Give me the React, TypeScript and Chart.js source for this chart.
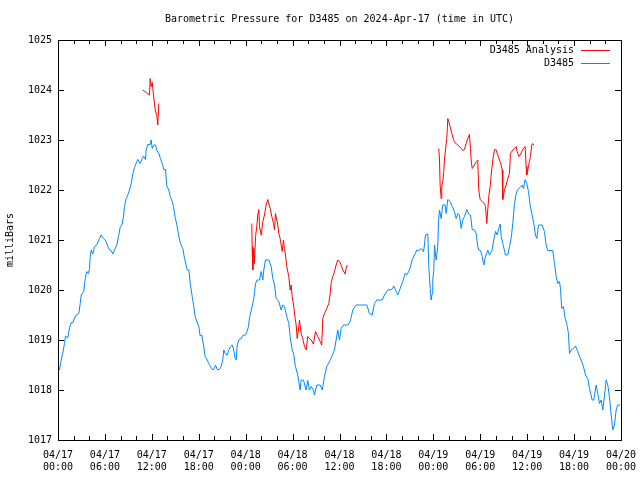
import React, { useEffect, useRef } from 'react';
import { Chart, registerables } from 'chart.js';

Chart.register(...registerables);

const TITLE = 'Barometric Pressure for D3485 on 2024-Apr-17 (time in UTC)';
const Y_TITLE = 'milliBars';
const DAY_LABELS = ['04/17', '04/18', '04/19', '04/20'];
const HOUR_LABELS = ['00:00', '06:00', '12:00', '18:00'];
const Y_MIN = 1017;
const Y_MAX = 1025;
const X_MAX_HOURS = 72;

const STATION_LABEL = 'D3485';
const ANALYSIS_LABEL = 'D3485 Analysis';
const STATION_COLOR = '#0088ff';
const ANALYSIS_COLOR = '#ff0000';

// hours since 2024-04-17 00:00 UTC
const stationHours = [
  0.19, 0.41, 0.61, 0.83, 0.96, 1.25, 1.47, 1.69, 1.89, 2.11, 2.33, 2.66, 2.84, 2.97, 3.3, 3.48, 3.68, 3.9, 4.03, 4.12,
  4.25, 4.45, 4.67, 4.96, 5.31, 5.52, 5.82, 6.07, 6.37, 6.59, 6.8, 7.01, 7.23, 7.52, 7.74, 7.95, 8.21, 8.38, 8.5, 8.72,
  8.93, 9.14, 9.36, 9.57, 9.78, 10.08, 10.2, 10.51, 10.77, 10.93, 11.19, 11.28, 11.48, 11.79, 11.92, 12.05, 12.25, 12.47, 12.63, 12.89,
  13.11, 13.32, 13.53, 13.75, 13.91, 14.17, 14.35, 14.6, 14.77, 14.99, 15.24, 15.45, 15.66, 15.96, 16.18, 16.39, 16.52, 16.73, 16.91, 17.16,
  17.37, 17.54, 17.8, 18.01, 18.18, 18.39, 18.61, 18.82, 19.08, 19.28, 19.5, 19.72, 19.92, 20.14, 20.36, 20.65, 20.87, 21.07, 21.2, 21.38,
  21.64, 21.84, 22.06, 22.28, 22.48, 22.66, 22.79, 22.92, 23.12, 23.43, 23.63, 23.98, 24.19, 24.36, 24.49, 24.83, 25.04, 25.26, 25.47, 25.77,
  25.98, 26.19, 26.32, 26.53, 26.96, 27.26, 27.47, 27.69, 27.9, 28.24, 28.54, 28.75, 28.96, 29.26, 29.51, 29.69, 29.95, 30.12, 30.37, 30.66,
  30.97, 31.1, 31.39, 31.74, 31.94, 32.16, 32.38, 32.67, 32.8, 33.09, 33.53, 33.79, 34.08, 34.37, 34.72, 35.01, 35.36, 35.57, 35.78, 36.0,
  36.21, 36.51, 37.06, 37.37, 37.7, 38.13, 38.55, 39.49, 39.83, 40.18, 40.47, 40.77, 41.46, 41.75, 42.17, 42.69, 42.94, 43.25, 43.45, 43.76,
  44.09, 44.4, 44.6, 44.95, 45.29, 45.59, 45.88, 46.14, 46.45, 46.74, 46.87, 46.99, 47.29, 47.42, 47.6, 47.72, 47.85, 47.93, 48.06, 48.15,
  48.36, 48.57, 48.66, 48.79, 49.0, 49.21, 49.51, 49.64, 49.85, 50.15, 50.41, 50.7, 50.92, 51.13, 51.34, 51.56, 51.76, 51.98, 52.28, 52.53,
  52.75, 52.97, 53.26, 53.48, 53.68, 53.81, 54.03, 54.25, 54.45, 54.67, 54.96, 55.18, 55.52, 55.73, 55.95, 56.16, 56.37, 56.55, 56.68, 56.88,
  57.23, 57.52, 57.74, 57.95, 58.16, 58.38, 58.59, 58.8, 59.1, 59.36, 59.53, 59.74, 59.95, 60.17, 60.38, 60.59, 60.84, 61.06, 61.23, 61.45,
  61.92, 62.21, 62.43, 62.63, 63.27, 63.49, 63.71, 63.91, 64.13, 64.26, 64.42, 64.64, 64.86, 65.06, 65.28, 65.41, 65.63, 65.92, 66.18, 66.47,
  66.69, 66.91, 67.2, 67.46, 67.75, 67.97, 68.31, 68.52, 68.82, 69.03, 69.25, 69.46, 69.67, 69.88, 70.1, 70.31, 70.52, 70.74, 70.95, 71.16,
  71.38, 71.59, 71.89,
];

const stationValues = [
  1018.4, 1018.6, 1018.74, 1018.93, 1019.08, 1019.04, 1019.24, 1019.35, 1019.34, 1019.44, 1019.5, 1019.53, 1019.73, 1019.9, 1019.97, 1020.23, 1020.37, 1020.33, 1020.43, 1020.67,
  1020.8, 1020.72, 1020.87, 1020.9, 1021.03, 1021.1, 1021.03, 1021.0, 1020.87, 1020.8, 1020.79, 1020.72, 1020.8, 1020.9, 1021.07, 1021.25, 1021.32, 1021.48, 1021.67, 1021.83,
  1021.9, 1022.0, 1022.13, 1022.33, 1022.45, 1022.57, 1022.61, 1022.53, 1022.63, 1022.68, 1022.61, 1022.8, 1022.91, 1022.91, 1023.0, 1022.83, 1022.9, 1022.9, 1022.8, 1022.73,
  1022.63, 1022.53, 1022.41, 1022.41, 1022.08, 1022.0, 1021.87, 1021.77, 1021.67, 1021.45, 1021.27, 1021.07, 1020.93, 1020.83, 1020.63, 1020.5, 1020.4, 1020.4, 1020.13, 1019.87,
  1019.67, 1019.47, 1019.35, 1019.27, 1019.08, 1019.1, 1018.9, 1018.67, 1018.6, 1018.53, 1018.47, 1018.41, 1018.41, 1018.5, 1018.41, 1018.41, 1018.47, 1018.6, 1018.8, 1018.73,
  1018.7, 1018.8, 1018.87, 1018.9, 1018.8, 1018.63, 1018.6, 1018.9, 1019.0, 1019.03, 1019.09, 1019.1, 1019.17, 1019.27, 1019.45, 1019.67, 1019.83, 1020.13, 1020.2, 1020.2,
  1020.37, 1020.2, 1020.4, 1020.6, 1020.6, 1020.47, 1020.23, 1020.1, 1019.83, 1019.77, 1019.6, 1019.7, 1019.67, 1019.47, 1019.33, 1019.07, 1018.8, 1018.73, 1018.47, 1018.3,
  1018.0, 1018.2, 1018.2, 1018.0, 1018.19, 1018.0, 1018.07, 1018.0, 1017.9, 1018.1, 1018.1, 1018.0, 1018.27, 1018.47, 1018.57, 1018.67, 1018.8, 1019.0, 1019.2, 1019.0,
  1019.23, 1019.3, 1019.3, 1019.37, 1019.6, 1019.7, 1019.7, 1019.7, 1019.53, 1019.5, 1019.73, 1019.8, 1019.8, 1019.9, 1020.0, 1020.01, 1020.08, 1019.97, 1019.9, 1020.03,
  1020.17, 1020.33, 1020.3, 1020.4, 1020.6, 1020.7, 1020.8, 1020.79, 1020.83, 1020.77, 1020.9, 1021.1, 1021.12, 1020.47, 1020.03, 1019.8, 1019.93, 1020.2, 1020.4, 1020.9,
  1020.6, 1020.87, 1021.37, 1021.6, 1021.43, 1021.7, 1021.7, 1021.53, 1021.81, 1021.77, 1021.67, 1021.57, 1021.43, 1021.53, 1021.5, 1021.23, 1021.4, 1021.47, 1021.61, 1021.52,
  1021.5, 1021.21, 1021.2, 1021.13, 1020.87, 1020.8, 1020.79, 1020.67, 1020.5, 1020.67, 1020.8, 1020.7, 1020.8, 1021.0, 1021.17, 1021.1, 1021.23, 1021.32, 1021.07, 1020.93,
  1020.7, 1020.7, 1020.87, 1021.03, 1021.33, 1021.73, 1021.93, 1022.01, 1022.05, 1022.1, 1022.03, 1022.21, 1022.13, 1021.97, 1021.7, 1021.53, 1021.33, 1021.1, 1021.03, 1021.3,
  1021.3, 1021.17, 1020.9, 1020.79, 1020.79, 1020.53, 1020.27, 1020.13, 1020.17, 1020.03, 1019.63, 1019.67, 1019.43, 1019.33, 1019.13, 1018.73, 1018.8, 1018.83, 1018.88, 1018.77,
  1018.67, 1018.6, 1018.47, 1018.3, 1018.23, 1018.03, 1017.8, 1017.8, 1018.1, 1017.93, 1017.73, 1017.8, 1017.6, 1017.87, 1018.2, 1018.1, 1017.87, 1017.5, 1017.2, 1017.3,
  1017.6, 1017.7, 1017.7,
];

// analysis: three separate runs
const analysisHoursA = [10.84, 11.28, 11.7, 11.79, 11.92, 12.05, 12.21, 12.43, 12.63, 12.76, 12.89];
const analysisValuesA = [1024.0, 1023.95, 1023.9, 1024.23, 1024.07, 1024.15, 1023.9, 1023.6, 1023.5, 1023.3, 1023.73];

const analysisHoursB = [
  24.78, 24.83, 24.91, 25.04, 25.13, 25.26, 25.42, 25.55, 25.68, 25.77, 25.98, 26.06, 26.19, 26.41, 26.62, 26.83, 26.96, 27.14, 27.34, 27.56,
  27.69, 27.81, 27.98, 28.11, 28.24, 28.41, 28.67, 28.84, 28.96, 29.09, 29.26, 29.51, 29.69, 29.82, 29.95, 30.12, 30.33, 30.46, 30.59, 30.75,
  30.88, 31.1, 31.3, 31.52, 31.74, 31.94, 32.16, 32.38, 32.67, 32.93, 33.22, 33.53, 33.73, 33.86, 34.08, 34.37, 34.63, 34.81, 34.94, 35.14,
  35.36, 35.57, 35.78, 36.0, 36.21, 36.42, 36.73, 36.85, 36.98,
];
const analysisValuesB = [
  1021.33, 1020.87, 1020.4, 1020.83, 1020.53, 1021.07, 1021.27, 1021.5, 1021.61, 1021.27, 1021.1, 1021.2, 1021.37, 1021.5, 1021.7, 1021.81, 1021.73, 1021.63, 1021.47, 1021.33,
  1021.2, 1021.53, 1021.4, 1021.3, 1021.13, 1021.03, 1020.77, 1021.0, 1020.83, 1020.7, 1020.47, 1020.27, 1020.0, 1020.1, 1019.87, 1019.7, 1019.43, 1019.3, 1019.03, 1019.2,
  1019.4, 1019.13, 1019.03, 1018.87, 1018.8, 1019.07, 1019.03, 1019.0, 1018.92, 1019.17, 1019.07, 1018.97, 1018.9, 1019.43, 1019.53, 1019.63, 1019.73, 1019.93, 1020.15, 1020.27,
  1020.37, 1020.5, 1020.6, 1020.57, 1020.5, 1020.4, 1020.32, 1020.43, 1020.5,
];

const analysisHoursC = [
  48.7, 48.79, 48.87, 49.0, 49.08, 49.21, 49.34, 49.42, 49.55, 49.72, 49.85, 49.97, 50.15, 50.36, 50.58, 50.74, 51.0, 51.25, 51.56, 51.76,
  51.98, 52.2, 52.4, 52.62, 52.75, 52.84, 52.97, 53.26, 53.48, 53.68, 53.81, 53.99, 54.25, 54.54, 54.67, 54.83, 54.96, 55.09, 55.27, 55.4,
  55.6, 55.82, 56.04, 56.24, 56.46, 56.68, 56.8, 56.88, 57.1, 57.31, 57.52, 57.74, 57.86, 58.16, 58.38, 58.59, 58.72, 58.93, 59.1, 59.31,
  59.53, 59.74, 59.87, 59.95, 60.08, 60.29, 60.42, 60.59, 60.72, 60.84,
];
const analysisValuesC = [
  1022.83, 1022.6, 1022.1, 1021.83, 1022.07, 1022.17, 1022.37, 1022.6, 1022.8, 1023.03, 1023.43, 1023.37, 1023.27, 1023.13, 1023.01, 1022.95, 1022.92, 1022.88, 1022.83, 1022.79,
  1022.81, 1022.93, 1023.03, 1023.11, 1022.83, 1022.6, 1022.43, 1022.5, 1022.57, 1022.6, 1022.0, 1021.81, 1021.77, 1021.73, 1021.67, 1021.33, 1021.6, 1021.87, 1022.07, 1022.3,
  1022.6, 1022.81, 1022.8, 1022.7, 1022.6, 1022.5, 1022.4, 1021.81, 1022.0, 1022.1, 1022.23, 1022.33, 1022.73, 1022.8, 1022.83, 1022.87, 1022.77, 1022.67, 1022.7, 1022.77,
  1022.83, 1022.87, 1022.47, 1022.3, 1022.4, 1022.57, 1022.67, 1022.9, 1022.93, 1022.9,
];

const FONT = 'DejaVu Sans Mono';

function toPoints(hours: number[], values: number[]) {
  return hours.map((h, i) => ({ x: h, y: values[i] as number | null }));
}

function buildAnalysis() {
  const runs = [
    toPoints(analysisHoursA, analysisValuesA),
    toPoints(analysisHoursB, analysisValuesB),
    toPoints(analysisHoursC, analysisValuesC),
  ];
  const out: { x: number; y: number | null }[] = [];
  runs.forEach((run, i) => {
    if (i > 0) {
      const prev = out[out.length - 1].x;
      out.push({ x: (prev + run[0].x) / 2, y: null });
    }
    out.push(...run);
  });
  return out;
}

const decorPlugin = {
  id: 'gnuplotDecor',
  afterDraw(chart: any) {
    const { ctx, chartArea } = chart;
    const { left, right, top, bottom } = chartArea;
    const xs = chart.scales.x;
    const ys = chart.scales.y;
    ctx.save();
    ctx.strokeStyle = '#000';
    ctx.lineWidth = 1;
    // ticks (inward, mirrored)
    ctx.beginPath();
    for (let h = 0; h <= X_MAX_HOURS; h += 2) {
      const px = Math.round(xs.getPixelForValue(h)) + 0.5;
      const len = h % 6 === 0 ? 6 : 4;
      ctx.moveTo(px, bottom);
      ctx.lineTo(px, bottom - len);
      ctx.moveTo(px, top);
      ctx.lineTo(px, top + len);
    }
    for (let v = Y_MIN; v <= Y_MAX; v += 1) {
      const py = Math.round(ys.getPixelForValue(v)) + 0.5;
      ctx.moveTo(left, py);
      ctx.lineTo(left + 6, py);
      ctx.moveTo(right, py);
      ctx.lineTo(right - 6, py);
    }
    ctx.stroke();
    // frame
    ctx.strokeRect(Math.round(left) + 0.5, Math.round(top) + 0.5, Math.round(right - left), Math.round(bottom - top));

    // title
    ctx.fillStyle = '#000';
    ctx.font = `10px "${FONT}"`;
    ctx.textAlign = 'center';
    ctx.textBaseline = 'middle';
    ctx.fillText(TITLE, (left + right) / 2, 19);

    // legend (text right-aligned, line sample after)
    const ds = chart.data.datasets;
    ctx.textAlign = 'right';
    ds.forEach((d: any, i: number) => {
      const y = top + 10 + i * 13;
      ctx.fillStyle = '#000';
      ctx.fillText(d.label, right - 47, y);
      ctx.strokeStyle = d.borderColor;
      ctx.beginPath();
      ctx.moveTo(right - 40, Math.round(y) + 0.5);
      ctx.lineTo(right - 11, Math.round(y) + 0.5);
      ctx.stroke();
    });
    ctx.restore();
  },
};

export default function App() {
  const ref = useRef<HTMLCanvasElement>(null);

  useEffect(() => {
    if (!ref.current) return;
    const chart = new Chart(ref.current, {
      type: 'line',
      data: {
        datasets: [
          {
            label: ANALYSIS_LABEL,
            data: buildAnalysis() as any,
            borderColor: ANALYSIS_COLOR,
            backgroundColor: ANALYSIS_COLOR,
            borderWidth: 1,
            pointRadius: 0,
            tension: 0,
            spanGaps: false,
          },
          {
            label: STATION_LABEL,
            data: toPoints(stationHours, stationValues) as any,
            borderColor: STATION_COLOR,
            backgroundColor: STATION_COLOR,
            borderWidth: 1,
            pointRadius: 0,
            tension: 0,
          },
        ],
      },
      options: {
        responsive: false,
        animation: false,
        events: [],
        layout: { padding: { left: 0, top: 40, right: 19, bottom: 0 } },
        plugins: {
          legend: { display: false },
          title: { display: false },
          tooltip: { enabled: false },
        },
        scales: {
          x: {
            type: 'linear',
            min: 0,
            max: X_MAX_HOURS,
            grid: { display: false, drawTicks: false, tickLength: 0 },
            border: { display: false },
            ticks: {
              stepSize: 6,
              autoSkip: false,
              maxRotation: 0,
              minRotation: 0,
              padding: 9,
              color: '#000',
              font: { family: FONT, size: 10, lineHeight: 1.2 },
              callback: (v: any) => {
                const h = Number(v);
                const d = Math.floor(h / 24);
                return [DAY_LABELS[d], HOUR_LABELS[(h % 24) / 6]];
              },
            },
            afterFit: (s: any) => {
              s.height = 40;
              s.paddingLeft = 0;
              s.paddingRight = 0;
            },
          },
          y: {
            min: Y_MIN,
            max: Y_MAX,
            grid: { display: false, drawTicks: false, tickLength: 0 },
            border: { display: false },
            title: {
              display: true,
              text: Y_TITLE,
              color: '#000',
              font: { family: FONT, size: 10 },
              padding: { top: 4, bottom: 0 },
            },
            ticks: {
              stepSize: 1,
              padding: 6,
              color: '#000',
              font: { family: FONT, size: 10 },
              callback: (v: any) => String(v),
            },
            afterFit: (s: any) => {
              s.width = 58;
              s.paddingTop = 0;
              s.paddingBottom = 0;
            },
          },
        },
      },
      plugins: [decorPlugin],
    });
    return () => chart.destroy();
  }, []);

  return (
    <canvas
      ref={ref}
      width={640}
      height={480}
      style={{ position: 'absolute', left: 0, top: 0, width: 640, height: 480 }}
    />
  );
}
